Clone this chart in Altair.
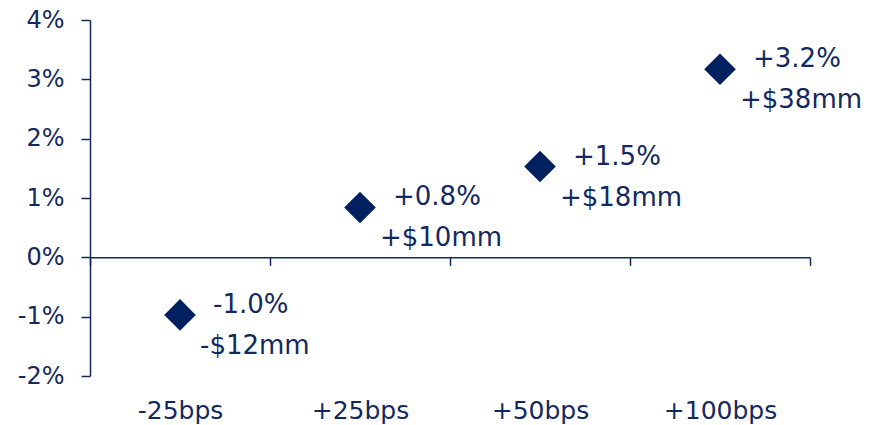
import altair as alt
import pandas as pd

scenarios = ["-25bps", "+25bps", "+50bps", "+100bps"]
pct_change = [-0.97, 0.84, 1.53, 3.17]
pct_labels = ["-1.0%", "+0.8%", "+1.5%", "+3.2%"]
dollar_labels = ["-$12mm", "+$10mm", "+$18mm", "+$38mm"]
y_ticks = [-2, -1, 0, 1, 2, 3, 4]

df = pd.DataFrame({
    "scenario": scenarios,
    "pct": pct_change,
    "pct_label": pct_labels,
    "dollar_label": dollar_labels,
})

NAVY = "#002060"
TEXT = "#13295e"
FONT = "DejaVu Sans"

H = 356
zero_offset = -H * 2 / 6  # place x-axis line at y = 0

x_enc = alt.X(
    "scenario:N",
    sort=scenarios,
    scale=alt.Scale(paddingInner=0, paddingOuter=0),
    axis=alt.Axis(
        title=None,
        orient="bottom",
        offset=zero_offset,
        tickBand="extent",
        tickSize=8,
        domainColor=TEXT,
        tickColor=TEXT,
        domainWidth=1.5,
        tickWidth=1.5,
        labelPadding=133,
        labelAngle=0,
        labelFont=FONT,
        labelFontSize=25,
        labelColor=TEXT,
        grid=False,
    ),
)

y_enc = alt.Y(
    "pct:Q",
    scale=alt.Scale(domain=[-2, 4], nice=False, zero=False),
    axis=alt.Axis(
        title=None,
        values=y_ticks,
        labelExpr="datum.value + '%'",
        tickSize=9,
        labelPadding=17,
        domainColor=TEXT,
        tickColor=TEXT,
        domainWidth=1.5,
        tickWidth=1.5,
        labelFont=FONT,
        labelFontSize=24,
        labelColor=TEXT,
        grid=False,
    ),
)

base = alt.Chart(df).encode(x=x_enc, y=y_enc)

points = base.mark_point(shape="diamond", filled=True, size=1000, color=NAVY, opacity=1)

line1 = base.mark_text(
    align="left", baseline="middle", dx=33, dy=-10,
    font=FONT, fontSize=26, color=TEXT,
).encode(text="pct_label:N")

line2 = base.mark_text(
    align="left", baseline="middle", dx=20, dy=31,
    font=FONT, fontSize=26, color=TEXT,
).encode(text="dollar_label:N")

chart = (
    alt.layer(points, line1, line2)
    .properties(
        width=720,
        height=H,
        autosize=alt.AutoSizeParams(type="none"),
        padding={"left": 90, "top": 20, "right": 67, "bottom": 49},
        background="white",
    )
    .configure_view(stroke=None)
)

chart.save("out.html", embed_options={"renderer": "svg", "actions": False})
